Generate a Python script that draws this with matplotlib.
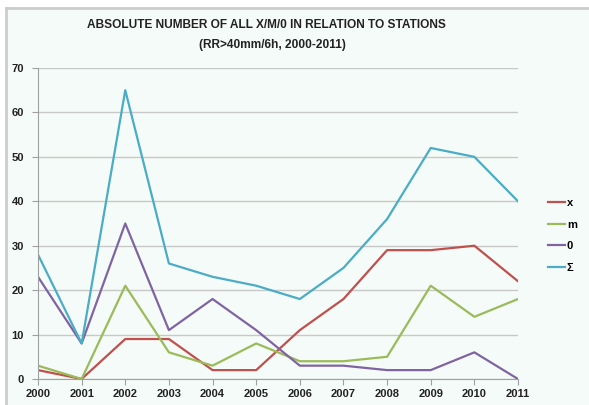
import matplotlib.pyplot as plt
from matplotlib.patches import Rectangle
import numpy as np

# données
years = ['2000', '2001', '2002', '2003', '2004', '2005', '2006',
         '2007', '2008', '2009', '2010', '2011']
x_vals = [2, 0, 9, 9, 2, 2, 11, 18, 29, 29, 30, 22]
m_vals = [3, 0, 21, 6, 3, 8, 4, 4, 5, 21, 14, 18]
o_vals = [23, 8, 35, 11, 18, 11, 3, 3, 2, 2, 6, 0]
sum_vals = [28, 8, 65, 26, 23, 21, 18, 25, 36, 52, 50, 40]

series = [('x', x_vals, '#c0504d'),
          ('m', m_vals, '#9bbb59'),
          ('0', o_vals, '#8064a2'),
          ('Σ', sum_vals, '#4bacc6')]

plt.rcParams['font.family'] = ['Liberation Sans', 'DejaVu Sans']

fig = plt.figure(figsize=(5.89, 4.05), dpi=100, facecolor='white')

# fond du cadre
fig.patches.append(Rectangle((6 / 589, 0), 1, 1 - 8 / 405, transform=fig.transFigure,
                             facecolor='#f5fbf8', edgecolor='none', zorder=-2))
fig.lines.append(plt.Line2D([6 / 589, 6 / 589], [0, 1 - 8 / 405], transform=fig.transFigure,
                            color='#cccccc', lw=2, zorder=-1))
fig.lines.append(plt.Line2D([6 / 589, 1], [1 - 8 / 405, 1 - 8 / 405], transform=fig.transFigure,
                            color='#cccccc', lw=2, zorder=-1))

ax = fig.add_axes([38 / 589, 1 - 379 / 405, 480 / 589, 311 / 405])
ax.set_facecolor('none')

pos = np.arange(len(years))
for label, vals, col in series:
    ax.plot(pos, vals, color=col, lw=1.6, label=label)

ax.set_xlim(0, len(years) - 1)
ax.set_ylim(0, 70)
ax.set_yticks(range(0, 71, 10))
ax.set_xticks(pos)
ax.set_xticklabels(years)
ax.grid(axis='y', color='#c8c8c8', lw=1)
ax.set_axisbelow(True)
for s in ['top', 'right']:
    ax.spines[s].set_visible(False)
for s in ['left', 'bottom']:
    ax.spines[s].set_color('#a0a0a0')
ax.tick_params(axis='both', colors='#a0a0a0', length=4, labelcolor='#222222',
               labelsize=8)
for t in ax.get_xticklabels() + ax.get_yticklabels():
    t.set_fontweight('bold')
ax.tick_params(axis='y', pad=6)

fig.text(266 / 589, 1 - 25 / 405, 'ABSOLUTE NUMBER OF ALL X/M/0 IN RELATION TO STATIONS',
         ha='center', va='center', fontsize=8.6, fontweight='bold', color='#222222')
fig.text(272 / 589, 1 - 45 / 405, '(RR>40mm/6h, 2000-2011)',
         ha='center', va='center', fontsize=8.6, fontweight='bold', color='#222222')

leg = fig.legend(loc='upper left', bbox_to_anchor=(538 / 589, 1 - 188 / 405),
                 frameon=False, handlelength=1.5, handletextpad=0.2,
                 labelspacing=1.05, prop={'weight': 'bold', 'size': 8})

plt.savefig('out.png', dpi=100, facecolor='white')
